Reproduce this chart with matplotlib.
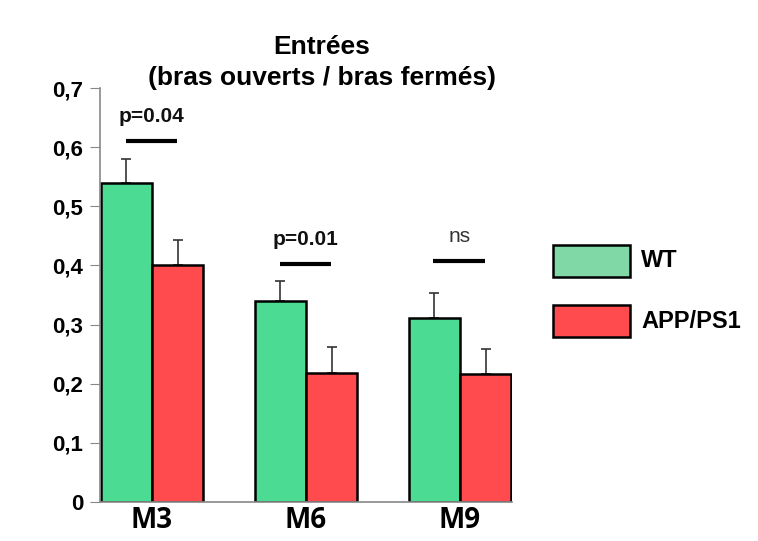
import numpy as np
import matplotlib
matplotlib.use("Agg")
import matplotlib.pyplot as plt
from matplotlib.patches import Rectangle

plt.rcParams['font.family'] = ['Liberation Sans', 'DejaVu Sans']

groups = ['M3', 'M6', 'M9']
wt = [0.54, 0.34, 0.311]
wt_err = [0.04, 0.034, 0.043]
app = [0.40, 0.218, 0.217]
app_err = [0.043, 0.044, 0.042]
sig_labels = ['p=0.04', 'p=0.01', 'ns']
sig_y = [0.61, 0.403, 0.408]
yticks = [0, 0.1, 0.2, 0.3, 0.4, 0.5, 0.6, 0.7]
ytick_labels = ['0', '0,1', '0,2', '0,3', '0,4', '0,5', '0,6', '0,7']

green = '#4cdb93'
red = '#ff4b4d'

fig = plt.figure(figsize=(7.58, 5.41), dpi=100)
ax = fig.add_axes([0.1319, 0.0721, 0.5436, 0.7652])

x = np.arange(len(groups))
w = 0.334
ax.bar(x - w / 2, wt, w, color=green, edgecolor='black', linewidth=1.8, zorder=2)
ax.bar(x + w / 2, app, w, color=red, edgecolor='black', linewidth=1.8, zorder=2)
ax.errorbar(x - w / 2, wt, yerr=[np.zeros(3), wt_err], fmt='none', ecolor='#333333',
            elinewidth=1.2, capsize=3.8, capthick=1.2, zorder=1)
ax.errorbar(x + w / 2, app, yerr=[np.zeros(3), app_err], fmt='none', ecolor='#333333',
            elinewidth=1.2, capsize=3.8, capthick=1.2, zorder=1)

# significance bars
for i, (lab, yy) in enumerate(zip(sig_labels, sig_y)):
    ax.plot([i - w / 2 - 0.005, i + w / 2 - 0.005], [yy, yy], color='black', lw=3,
            solid_capstyle='butt', clip_on=False)
    ax.text(i - 0.005, yy + 0.041, lab, ha='center', va='center', fontsize=15,
            fontweight='normal' if lab == 'ns' else 'bold',
            color='#333333' if lab == 'ns' else '#111111')

ax.set_xlim(-0.338, 2.338)
ax.set_ylim(0, 0.7)
ax.set_yticks(yticks)
ax.set_yticklabels(ytick_labels, fontsize=16, fontweight='bold')
ax.set_xticks(x)
ax.set_xticklabels(groups, fontsize=20, fontweight='bold', family=['Open Sans', 'DejaVu Sans'])
ax.tick_params(axis='x', length=0, pad=3)
ax.tick_params(axis='y', length=7, color='#888888', pad=5)
for s in ['top', 'right']:
    ax.spines[s].set_visible(False)
for s in ['left', 'bottom']:
    ax.spines[s].set_color('#888888')
    ax.spines[s].set_linewidth(1.2)

fig.text(0.425, 0.913, 'Entrées', ha='center', va='center', fontsize=19, fontweight='bold')
fig.text(0.425, 0.855, '(bras ouverts / bras fermés)', ha='center', va='center',
         fontsize=19, fontweight='bold')

# legend
legend_items = [('WT', '#7fd8a6', 0.488), ('APP/PS1', red, 0.377)]
for lab, col, yb in legend_items:
    fig.patches.append(Rectangle((553 / 758, yb), 77 / 758, 32 / 541, facecolor=col,
                                 edgecolor='black', linewidth=1.8,
                                 transform=fig.transFigure, figure=fig))
    fig.text(641 / 758, yb + 16 / 541, lab, ha='left', va='center', fontsize=17,
             fontweight='bold')

fig.savefig('out.png', dpi=100)
